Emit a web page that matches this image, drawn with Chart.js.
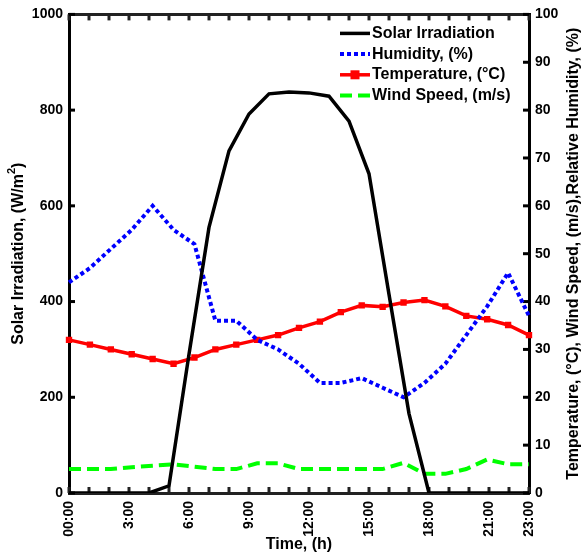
<!DOCTYPE html>
<html>
<head>
<meta charset="utf-8">
<script src="https://cdn.jsdelivr.net/npm/chart.js@4.4.1/dist/chart.umd.min.js"></script>
<style>
html,body{margin:0;padding:0;background:#fff;}
#wrap{width:582px;height:556px;}
</style>
</head>
<body>
<div id="wrap"><canvas id="c" width="582" height="556"></canvas></div>
<script>
// ---- data ----
const hours = ['00:00','1:00','2:00','3:00','4:00','5:00','6:00','7:00','8:00','9:00','10:00','11:00',
               '12:00','13:00','14:00','15:00','16:00','17:00','18:00','19:00','20:00','21:00','22:00','23:00'];
const shownHours = ['00:00','3:00','6:00','9:00','12:00','15:00','18:00','21:00','23:00'];
// the humidity / temperature / wind records hold 23 samples spread over the same time span
const sampleLabels = ['s1','s2','s3','s4','s5','s6','s7','s8','s9','s10','s11','s12',
                      's13','s14','s15','s16','s17','s18','s19','s20','s21','s22','s23'];
const solarIrradiation = [0,0,0,0,0,15,290,555,715,792,834,838,836,829,777,667,415,166,0,0,0,0,0,0];
const humidity    = [44,47,51,55,60,55,52,36,36,32,30,27,23,23,24,22,20,23,27,33,39,46,37];
const temperature = [32,31,30,29,28,27,28.3,30,31,32,33,34.5,35.8,37.8,39.2,38.9,39.8,40.3,39,37,36.3,35.1,33];
const windSpeed   = [5,5,5,5.4,5.7,6,5.5,5,5,6.2,6.2,5,5,5,5,5,6.3,4,4,5,7,6,6];
const leftTicks  = [0,200,400,600,800,1000];
const rightTicks = [0,10,20,30,40,50,60,70,80,90,100];

const FONT = 'Liberation Sans, Arial, sans-serif';

const framePlugin = {
  id: 'frame',
  beforeDatasetsDraw(chart) {
    const ctx = chart.ctx, a = chart.chartArea;
    const sx = chart.scales.x, sy = chart.scales.y, sr = chart.scales.y1;
    ctx.save();
    ctx.lineCap = 'butt';
    ctx.strokeStyle = '#222';
    ctx.lineWidth = 3;
    ctx.beginPath(); ctx.moveTo(a.left, a.top); ctx.lineTo(a.right, a.top); ctx.stroke();
    hours.forEach((h, i) => {
      const px = sx.getPixelForValue(i);
      ctx.beginPath(); ctx.moveTo(px, a.bottom); ctx.lineTo(px, a.bottom - 6); ctx.stroke();
      ctx.beginPath(); ctx.moveTo(px, a.top); ctx.lineTo(px, a.top + 6); ctx.stroke();
    });
    ctx.strokeStyle = '#000';
    leftTicks.forEach(v => {
      const py = sy.getPixelForValue(v);
      ctx.beginPath(); ctx.moveTo(a.left, py); ctx.lineTo(a.left + 6, py); ctx.stroke();
    });
    rightTicks.forEach(v => {
      const py = sr.getPixelForValue(v);
      ctx.beginPath(); ctx.moveTo(a.right, py); ctx.lineTo(a.right - 6, py); ctx.stroke();
    });
    ctx.restore();
  }
};

const labelsPlugin = {
  id: 'labels',
  afterDraw(chart) {
    const ctx = chart.ctx, a = chart.chartArea;
    const cy = (a.top + a.bottom) / 2;
    ctx.save();
    ctx.fillStyle = '#000';
    const f = 'bold 16px ' + FONT;
    const fs = 'bold 11px ' + FONT;
    // left title with superscript
    ctx.save();
    ctx.translate(19, cy);
    ctx.rotate(-Math.PI / 2);
    ctx.textBaseline = 'middle';
    const p1 = 'Solar Irradiation, (W/m', p2 = '2', p3 = ')';
    ctx.font = f; const w1 = ctx.measureText(p1).width, w3 = ctx.measureText(p3).width;
    ctx.font = fs; const w2 = ctx.measureText(p2).width;
    let x = -(w1 + w2 + w3) / 2;
    ctx.font = f; ctx.textAlign = 'left'; ctx.fillText(p1, x, 0); x += w1;
    ctx.font = fs; ctx.fillText(p2, x, -7); x += w2;
    ctx.font = f; ctx.fillText(p3, x, 0);
    ctx.restore();
    // right title
    ctx.save();
    ctx.translate(574, cy);
    ctx.rotate(-Math.PI / 2);
    ctx.textAlign = 'center'; ctx.textBaseline = 'middle'; ctx.font = f;
    ctx.fillText('Temperature, (\u00B0C), Wind Speed, (m/s),Relative Humidity, (%)', 0, 0);
    ctx.restore();
    // x title
    ctx.textAlign = 'center'; ctx.textBaseline = 'middle'; ctx.font = f;
    ctx.fillText('Time, (h)', (a.left + a.right) / 2, 545);
    // legend
    const x0 = a.right - 189, x1 = x0 + 30;
    let y = a.top + 19;
    chart.data.datasets.forEach(ds => {
      ctx.save();
      ctx.strokeStyle = ds.borderColor; ctx.lineWidth = ds.borderWidth;
      ctx.setLineDash(ds.borderDash || []);
      ctx.beginPath(); ctx.moveTo(x0, y); ctx.lineTo(x1, y); ctx.stroke();
      ctx.setLineDash([]);
      if (ds.pointRadius > 0) {
        const r = ds.pointRadius;
        ctx.fillStyle = ds.pointBackgroundColor;
        ctx.fillRect((x0 + x1) / 2 - r, y - r, 2 * r, 2 * r);
      }
      ctx.fillStyle = '#000'; ctx.font = f; ctx.textAlign = 'left'; ctx.textBaseline = 'middle';
      ctx.fillText(ds.label, x1 + 2, y);
      ctx.restore();
      y += 20.7;
    });
    ctx.restore();
  }
};

const tickFont = { family: FONT, size: 14, weight: 'bold' };

new Chart(document.getElementById('c'), {
  type: 'line',
  data: {
    labels: hours,
    datasets: [
      { label: 'Solar Irradiation', data: solarIrradiation, xAxisID: 'x', yAxisID: 'y',
        borderColor: '#000000', borderWidth: 3.5, pointRadius: 0, tension: 0 },
      { label: 'Humidity, (%)', data: humidity, xAxisID: 'xs', yAxisID: 'y1',
        borderColor: '#0000ff', borderWidth: 4, borderDash: [4, 3], pointRadius: 0, tension: 0 },
      { label: 'Temperature, (\u00B0C)', data: temperature, xAxisID: 'xs', yAxisID: 'y1',
        borderColor: '#ff0000', borderWidth: 3.5, pointStyle: 'rect', pointRadius: 4.5,
        pointBackgroundColor: '#ff0000', pointBorderColor: '#ff0000', pointBorderWidth: 0, tension: 0 },
      { label: 'Wind Speed, (m/s)', data: windSpeed, xAxisID: 'xs', yAxisID: 'y1',
        borderColor: '#00ff00', borderWidth: 4, borderDash: [12, 6], pointRadius: 0, tension: 0 }
    ]
  },
  options: {
    responsive: false,
    animation: false,
    devicePixelRatio: 1,
    layout: { padding: { top: 14, left: 0, right: 0, bottom: 0 } },
    plugins: { legend: { display: false }, tooltip: { enabled: false } },
    scales: {
      x: {
        type: 'category', position: 'bottom', offset: false,
        grid: { display: false, drawTicks: false },
        border: { display: true, color: '#222', width: 3 },
        ticks: {
          autoSkip: false, maxRotation: 90, minRotation: 90, padding: 8,
          color: '#000', font: tickFont,
          callback: (v, i) => shownHours.includes(hours[i]) ? hours[i] : ''
        },
        afterFit: s => { s.height = 63; }
      },
      xs: {
        type: 'category', labels: sampleLabels, display: false, offset: false
      },
      y: {
        position: 'left', min: 0, max: 1000,
        grid: { display: false, drawTicks: false },
        border: { display: true, color: '#000', width: 3 },
        ticks: { stepSize: 200, padding: 6, color: '#000', font: tickFont,
                 callback: v => String(v) },
        afterFit: s => { s.width = 69; }
      },
      y1: {
        position: 'right', min: 0, max: 100,
        grid: { display: false, drawTicks: false },
        border: { display: true, color: '#000', width: 3 },
        ticks: { stepSize: 10, padding: 6, color: '#000', font: tickFont,
                 callback: v => String(v) },
        afterFit: s => { s.width = 53; }
      }
    }
  },
  plugins: [framePlugin, labelsPlugin]
});
</script>
</body>
</html>
